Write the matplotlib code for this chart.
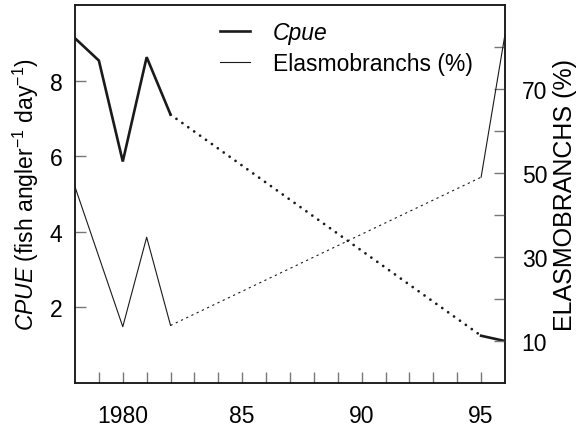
import matplotlib
matplotlib.use("Agg")
import matplotlib.pyplot as plt
from matplotlib.ticker import FixedLocator

# Data
cpue_years = [1978, 1979, 1980, 1981, 1982, 1995, 1996]
cpue = [9.12, 8.53, 5.86, 8.62, 7.10, 1.25, 1.11]

elasmo_years = [1978, 1980, 1981, 1982, 1995, 1996]
elasmo = [46.7, 13.4, 34.7, 13.7, 49.0, 83.0]

x_major = [1980, 1985, 1990, 1995]
x_labels = ["1980", "85", "90", "95"]

plt.rcParams["font.family"] = ["Liberation Sans", "DejaVu Sans"]
plt.rcParams["mathtext.fontset"] = "custom"
plt.rcParams["mathtext.rm"] = "Liberation Sans"
plt.rcParams["mathtext.it"] = "Liberation Sans:italic"

FS = 16.5
TICK_C = "#777777"

fig = plt.figure(figsize=(5.79, 4.27), dpi=100)
ax = fig.add_axes([75 / 579, 1 - 384 / 427, 430 / 579, 378 / 427])
ax2 = ax.twinx()

# split each series: solid early years, dotted gap, solid last two years
def segments(xs, ys, split_year):
    i = xs.index(split_year)
    return (xs[:i + 1], ys[:i + 1]), (xs[i:i + 2], ys[i:i + 2]), (xs[i + 1:], ys[i + 1:])

(c_a, c_b, c_c) = segments(cpue_years, cpue, 1982)
(e_a, e_b, e_c) = segments(elasmo_years, elasmo, 1982)

h_cpue, = ax.plot(*c_a, color="#1a1a1a", lw=1.9, solid_joinstyle="miter")
ax.plot(*c_b, color="#1a1a1a", lw=2.0, linestyle=(0, (0.01, 2.6)),
        dash_capstyle="round")
ax.plot(*c_c, color="#1a1a1a", lw=1.9)

h_el, = ax2.plot(*e_a, color="#1a1a1a", lw=0.8)
ax2.plot(*e_b, color="#1a1a1a", lw=0.8, linestyle=(0, (2.0, 3.2)))
ax2.plot(*e_c, color="#1a1a1a", lw=0.8)

ax.set_xlim(1978, 1996)
ax.set_ylim(0, 10)
ax2.set_ylim(0, 90)

ax.set_xticks(x_major)
ax.set_xticklabels(x_labels)
ax.xaxis.set_minor_locator(FixedLocator(range(1979, 1996)))
ax.set_yticks([2, 4, 6, 8])
ax2.set_yticks([10, 30, 50, 70])
ax2.yaxis.set_minor_locator(FixedLocator([20, 40, 60, 80]))

for a in (ax, ax2):
    a.tick_params(which="both", direction="in", length=8, width=1.0,
                  color=TICK_C, labelsize=FS)
    for s in a.spines.values():
        s.set_linewidth(1.1)
        s.set_color("#1a1a1a")
ax.tick_params(axis="x", pad=15)
ax.tick_params(axis="y", pad=9)
ax2.tick_params(axis="y", pad=12)

ax.set_ylabel(r"$\mathit{CPUE}$ (fish angler$^{-1}$ day$^{-1}$)", fontsize=FS,
              labelpad=6)
ax2.set_ylabel("ELASMOBRANCHS (%)", fontsize=18, labelpad=4)

ax.legend([h_cpue, h_el], ["Cpue", "Elasmobranchs (%)"], frameon=False,
          loc="upper left", bbox_to_anchor=(0.337, 0.957), borderaxespad=0,
          borderpad=0, handlelength=1.3, handletextpad=1.0, labelspacing=0.35,
          fontsize=FS)
leg = ax.get_legend()
leg.get_texts()[0].set_fontstyle("italic")

fig.savefig("out.png", dpi=100)
